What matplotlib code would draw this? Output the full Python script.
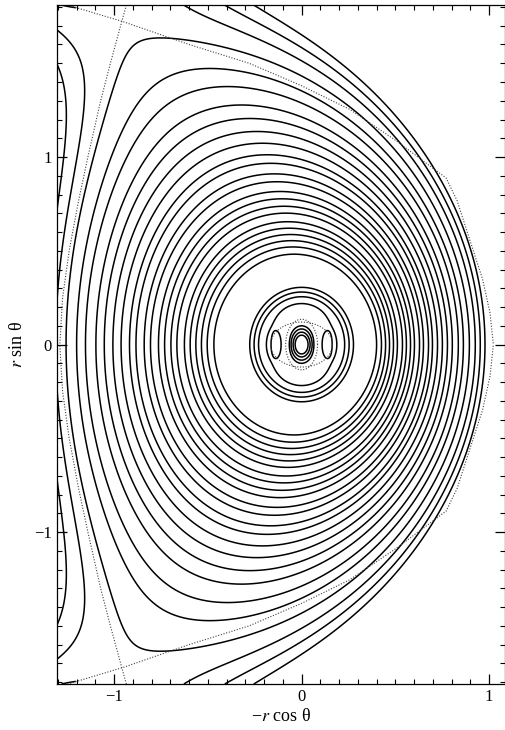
import numpy as np
import matplotlib
matplotlib.use("Agg")
import matplotlib.pyplot as plt
from matplotlib.ticker import MultipleLocator, FixedLocator

plt.rcParams['font.family'] = ['Liberation Serif', 'DejaVu Serif']
plt.rcParams['mathtext.fontset'] = 'stix'
plt.rcParams['contour.negative_linestyle'] = 'solid'

# ---------------- values ----------------
outer_right_x = [0.400, 0.426, 0.448, 0.469, 0.490, 0.511, 0.538, 0.559, 0.581,
                 0.602, 0.629, 0.650, 0.677, 0.698, 0.725, 0.751, 0.778, 0.804,
                 0.836, 0.863, 0.895]
top_edge_x = [-0.628, -0.41, -0.255]

central_ring_h = [0.050, 0.066, 0.083, 0.100]
island_edge_x = [0.163]
enclosing_ring_h = [0.255, 0.28, 0.305]

dotA_x = [-0.935, -0.96, -1.02, -1.072, -1.14, -1.19, -1.24, -1.275, -1.29]
dotA_y = [1.81, 1.72, 1.50, 1.30, 1.00, 0.766, 0.50, 0.25, 0.0]
dotB_x = [-1.305, -1.213, -0.947, -0.60, -0.28, 0.0, 0.255, 0.50, 0.771, 0.83, 0.90, 0.965, 1.005, 1.023]
dotB_y = [1.83, 1.80, 1.72, 1.60, 1.50, 1.38, 1.255, 1.09, 0.888, 0.766, 0.55, 0.35, 0.17, 0.0]
# inner dotted ovals: (semi-axis x, semi-axis y)
dot_ovals = [(0.165, 0.12), (0.085, 0.135)]

XLIM = (-1.305, 1.085)
YLIM = (-1.81, 1.81)

# ---------------- outer model (saddle near (-0.96, +-1.72)) ----------------
pk, pa, pX, pY = 0.455, 0.502, 1.543, 2.447

def outer_field(x, y):
    r = np.sqrt(x * x + y * y)
    return (0.5 * np.log(x * x + y * y / (1.0 + pk * r))
            + 0.5 * pa * (np.log((x + pX) ** 2 + (y - pY) ** 2)
                          + np.log((x + pX) ** 2 + (y + pY) ** 2)))

# ---------------- inner model ----------------
in_ea, in_r1 = 1.45, 0.045                     # central well
in_eb, in_Kw, in_rw, in_n = 1.1, 0.1, 0.2, 6   # outer wall
in_B, in_x0, in_sx, in_sy = 0.15, 0.125, 0.04, 0.10   # side islands

def inner_field(x, y):
    ra2 = x * x + (y / in_ea) ** 2
    rb = np.sqrt(x * x + (y / in_eb) ** 2)
    g = 0.5 * np.log(ra2 / (ra2 + in_r1 ** 2)) + in_Kw * (rb / in_rw) ** in_n
    g = g + in_B * (np.exp(-((x - in_x0) / in_sx) ** 2 - (y / in_sy) ** 2)
                    + np.exp(-((x + in_x0) / in_sx) ** 2 - (y / in_sy) ** 2))
    return g

# ---------------- figure ----------------
fig = plt.figure(figsize=(5.06, 7.30), dpi=100)
ax = fig.add_axes([0.1126, 0.063, 0.8854, 0.930])

xg = np.linspace(XLIM[0], XLIM[1], 800)
yg = np.linspace(YLIM[0], YLIM[1], 1200)
XX, YY = np.meshgrid(xg, yg)
F = outer_field(XX, YY)
# the corner wedges beyond both dotted curves carry no contours
yB_at_x = np.interp(XX, dotB_x, dotB_y)
xA_at_y = np.interp(np.abs(YY), dotA_y[::-1], dotA_x[::-1])
F = np.where((np.abs(YY) > yB_at_x) & (XX < xA_at_y), np.nan, F)
lev_out = [outer_field(x, 0.0) for x in outer_right_x]
lev_out += [outer_field(x, YLIM[1]) for x in top_edge_x]
lev_out = np.unique(np.round(lev_out, 9))
ax.contour(XX, YY, F, levels=lev_out, colors='k', linewidths=1.1,
           linestyles='solid')

xi = np.linspace(-0.36, 0.36, 800)
XI, YI = np.meshgrid(xi, xi)
GI = inner_field(XI, YI)
GI = np.where(np.hypot(XI, YI) < 0.35, GI, np.nan)
lev_in = [inner_field(0.0, h) for h in central_ring_h]
lev_in += [inner_field(x, 0.0) for x in island_edge_x]
lev_in += [inner_field(0.0, h) for h in enclosing_ring_h]
lev_in = np.unique(np.round(lev_in, 9))
ax.contour(XI, YI, GI, levels=lev_in, colors='k', linewidths=1.1,
           linestyles='solid')

dot_style = dict(color='0.25', lw=0.8, ls=(0, (1, 1.5)))
t = np.linspace(0, 2 * np.pi, 300)
for (ea, eb) in dot_ovals:
    ax.plot(ea * np.cos(t), eb * np.sin(t), **dot_style)
for sgn in (1, -1):
    ax.plot(dotA_x, np.array(dotA_y) * sgn, **dot_style)
    ax.plot(dotB_x, np.array(dotB_y) * sgn, **dot_style)

ax.set_xlim(*XLIM)
ax.set_ylim(*YLIM)
ax.xaxis.set_major_locator(FixedLocator([-1, 0, 1]))
ax.yaxis.set_major_locator(FixedLocator([-1, 0, 1]))
ax.xaxis.set_minor_locator(MultipleLocator(0.1))
ax.yaxis.set_minor_locator(MultipleLocator(0.1))
ax.tick_params(which='both', direction='in', top=True, right=True, labelsize=12)
ax.tick_params(which='major', length=7, width=0.9)
ax.tick_params(which='minor', length=3.5, width=0.8)
ax.set_xticklabels(['\u22121', '0', '1'])
ax.set_yticklabels(['\u22121', '0', '1'])
for s in ax.spines.values():
    s.set_linewidth(0.9)
ax.set_xlabel('\u2212$r$ cos \u03b8', fontsize=13, labelpad=2)
ax.set_ylabel('$r$ sin \u03b8', fontsize=13, labelpad=6)

fig.savefig('out.png', dpi=100)
